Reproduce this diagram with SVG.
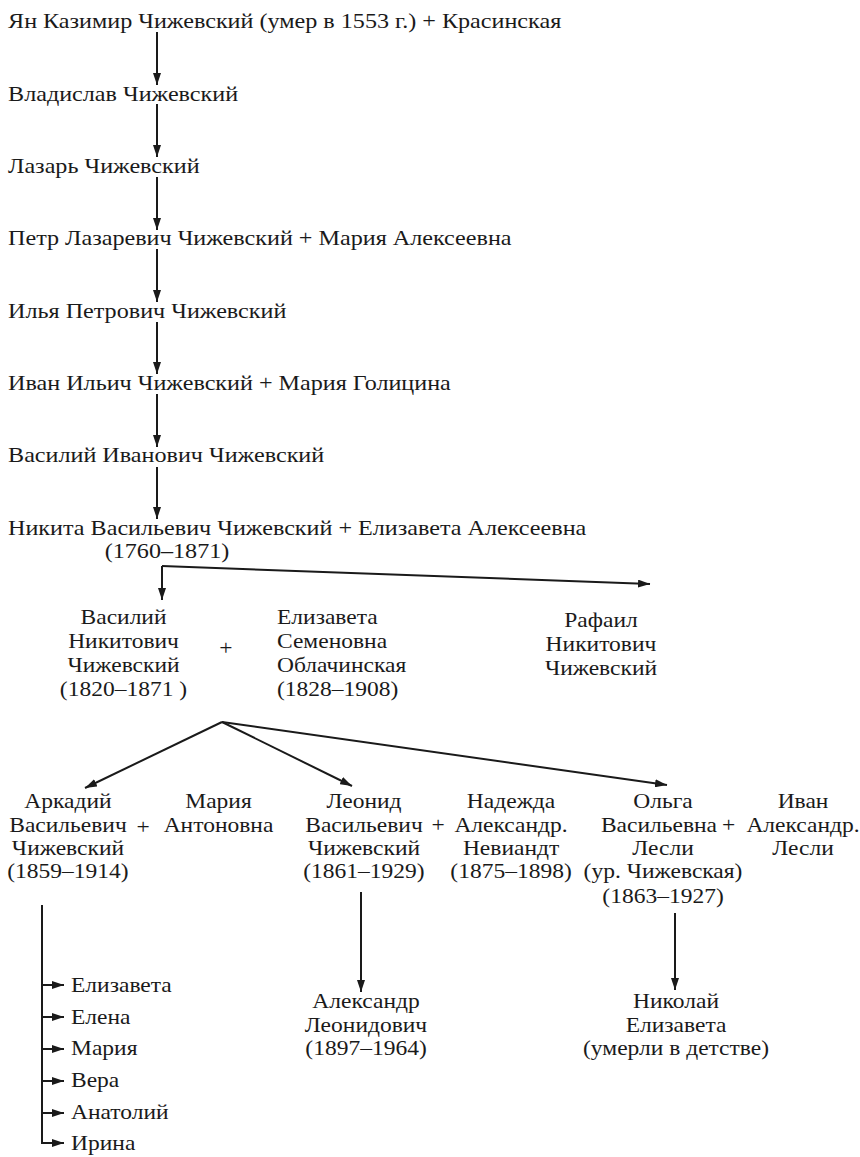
<svg xmlns="http://www.w3.org/2000/svg" width="860" height="1157" viewBox="0 0 860 1157">
<style>
text{font-family:'Liberation Serif','Times New Roman',serif;font-size:21px;fill:#1a1a1a}
.m{text-anchor:middle}
.c{fill:none;stroke:#1a1a1a;stroke-width:2}
.a{marker-end:url(#ah)}
</style>
<defs>
<marker id="ah" markerUnits="userSpaceOnUse" markerWidth="12" markerHeight="8" refX="12" refY="4" orient="auto"><path d="M0,0 L12,4 L0,8 Z" fill="#1a1a1a"/></marker>
</defs>
<rect width="860" height="1157" fill="#fff"/>
<g id="connectors" class="c">
<path class="a" d="M157,32 V85"/>
<path class="a" d="M157,104 V157"/>
<path class="a" d="M157,177 V230"/>
<path class="a" d="M157,249 V302"/>
<path class="a" d="M157,322 V374"/>
<path class="a" d="M157,394 V447"/>
<path class="a" d="M157,467 V519"/>
<path class="a" d="M162,566 V600"/>
<path class="a" d="M162,566 L650,584"/>
<path class="a" d="M222,722 L85,788"/>
<path class="a" d="M222,722 L352,786"/>
<path class="a" d="M222,722 L667,785"/>
<path class="a" d="M361,892 V992"/>
<path class="a" d="M675,913 V990"/>
<path class="a" d="M42,905 V1143 H64"/>
<path class="a" d="M42,985 H64"/>
<path class="a" d="M42,1017 H64"/>
<path class="a" d="M42,1049 H64"/>
<path class="a" d="M42,1081 H64"/>
<path class="a" d="M42,1113 H64"/>
</g>
<g transform="scale(1.15 1)">
<g id="n1"><text x="7" y="28">Ян Казимир Чижевский (умер в 1553 г.) + Красинская</text></g>
<g id="n2"><text x="7" y="101">Владислав Чижевский</text></g>
<g id="n3"><text x="7" y="173">Лазарь Чижевский</text></g>
<g id="n4"><text x="7" y="245">Петр Лазаревич Чижевский + Мария Алексеевна</text></g>
<g id="n5"><text x="7" y="318">Илья Петрович Чижевский</text></g>
<g id="n6"><text x="7" y="390">Иван Ильич Чижевский + Мария Голицина</text></g>
<g id="n7"><text x="7" y="462">Василий Иванович Чижевский</text></g>
<g id="n8"><text x="7" y="535">Никита Васильевич Чижевский + Елизавета Алексеевна</text><text class="m" x="145.2" y="558">(1760–1871)</text></g>
</g>
<g transform="scale(1.12 1)">
<g id="vasily"><text class="m" x="110.3" y="624">Василий</text><text class="m" x="110.3" y="648">Никитович</text><text class="m" x="110.3" y="672">Чижевский</text><text class="m" x="110.3" y="696">(1820–1871 )</text></g>
<g id="plus1"><text class="m" x="201.8" y="655">+</text></g>
<g id="elizaveta"><text x="247.3" y="624">Елизавета</text><text x="247.3" y="648">Семеновна</text><text x="247.3" y="672">Облачинская</text><text x="247.3" y="696">(1828–1908)</text></g>
<g id="rafail"><text class="m" x="536.6" y="627">Рафаил</text><text class="m" x="536.6" y="651">Никитович</text><text class="m" x="536.6" y="675">Чижевский</text></g>
<g id="arkady"><text class="m" x="60.7" y="808">Аркадий</text><text class="m" x="60.7" y="832">Васильевич</text><text class="m" x="60.7" y="855">Чижевский</text><text class="m" x="60.7" y="878">(1859–1914)</text></g>
<g id="plus2"><text class="m" x="127.7" y="834">+</text></g>
<g id="maria"><text class="m" x="195.1" y="808">Мария</text><text class="m" x="195.1" y="832">Антоновна</text></g>
<g id="leonid"><text class="m" x="325" y="808">Леонид</text><text class="m" x="325" y="832">Васильевич</text><text class="m" x="325" y="855">Чижевский</text><text class="m" x="325" y="878">(1861–1929)</text></g>
<g id="plus3"><text class="m" x="391.1" y="832">+</text></g>
<g id="nadezhda"><text class="m" x="456.3" y="808">Надежда</text><text class="m" x="456.3" y="832">Александр.</text><text class="m" x="456.3" y="855">Невиандт</text><text class="m" x="456.3" y="878">(1875–1898)</text></g>
<g id="olga"><text class="m" x="592" y="808">Ольга</text><text class="m" x="588.4" y="832">Васильевна</text><text class="m" x="592" y="855">Лесли</text><text class="m" x="592" y="878">(ур. Чижевская)</text><text class="m" x="592" y="903">(1863–1927)</text></g>
<g id="plus4"><text class="m" x="650.5" y="832">+</text></g>
<g id="ivan"><text class="m" x="717" y="808">Иван</text><text class="m" x="717" y="832">Александр.</text><text class="m" x="717" y="855">Лесли</text></g>
<g id="alexandr"><text class="m" x="326.8" y="1008">Александр</text><text class="m" x="326.8" y="1032">Леонидович</text><text class="m" x="326.8" y="1055">(1897–1964)</text></g>
<g id="nikolai"><text class="m" x="603.6" y="1008">Николай</text><text class="m" x="603.6" y="1032">Елизавета</text><text class="m" x="603.6" y="1055">(умерли в детстве)</text></g>
<g id="children"><text x="63.4" y="992">Елизавета</text><text x="63.4" y="1024">Елена</text><text x="63.4" y="1055">Мария</text><text x="63.4" y="1087">Вера</text><text x="63.4" y="1119">Анатолий</text><text x="63.4" y="1150">Ирина</text></g>
</g>
</svg>
